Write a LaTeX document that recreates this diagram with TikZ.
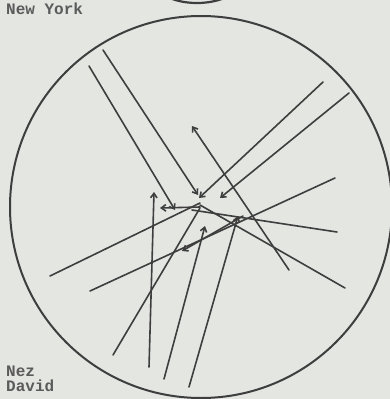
\documentclass[tikz,border=0pt]{standalone}
\usepackage{fontspec}
\setmonofont{Liberation Mono}
\usetikzlibrary{arrows.meta}
\definecolor{paper}{HTML}{E4E6E2}
\definecolor{ink}{HTML}{3E3E3E}
\tikzset{
  stroke/.style={draw=ink, line width=1.6pt, line cap=round},
  arr/.style={stroke, -{Straight Barb[length=4.5pt,width=6.5pt]}},
  lbl/.style={font=\ttfamily\bfseries\fontsize{16}{15}\selectfont, text=ink!85, inner sep=0pt, anchor=base west, align=left}
}
\begin{document}
\begin{tikzpicture}[x=1pt,y=-1pt]
\fill[paper] (0,0) rectangle (390,399);
\useasboundingbox (0,0) rectangle (390,399);
\begin{scope}
\clip (0,0) rectangle (390,399);
\draw[stroke, line width=2.2pt] (197,-20) ellipse [x radius=44, y radius=23];
\draw[stroke, line width=2pt] (201,207) ellipse [x radius=191, y radius=191];
\end{scope}
\node[lbl] (ny) at (6,14) {New York};
\node[lbl] (nez) at (6,376) {Nez};
\node[lbl] (david) at (6,391) {David};
% endpoints
\coordinate (a1) at (89,66);   \coordinate (a2) at (175,210);
\coordinate (b1) at (103,50);  \coordinate (b2) at (198,195);
\coordinate (c1) at (323,82);  \coordinate (c2) at (199,198);
\coordinate (d1) at (349,93);  \coordinate (d2) at (220,198);
\coordinate (e1) at (289,270); \coordinate (e2) at (192,126);
\coordinate (f1) at (149,367); \coordinate (f2) at (154,192);
\coordinate (g1) at (113,355); \coordinate (g2) at (200,208);
\coordinate (h1) at (164,379); \coordinate (h2) at (205,226);
\coordinate (i1) at (189,387); \coordinate (i2) at (238,216);
\coordinate (l1a) at (50,276); \coordinate (l1b) at (200,203);
\coordinate (l2a) at (90,291); \coordinate (l2b) at (335,178);
\coordinate (j1) at (243,216); \coordinate (j2) at (182,251);
\coordinate (k1) at (192,210); \coordinate (k2) at (337,232);
\coordinate (m1) at (200,205); \coordinate (m2) at (345,288);
\coordinate (n1) at (200,207); \coordinate (n2) at (160,208);
\draw[arr] (a1) -- (a2);
\draw[arr] (b1) -- (b2);
\draw[arr] (c1) -- (c2);
\draw[arr] (d1) -- (d2);
\draw[arr] (e1) -- (e2);
\draw[arr] (f1) -- (f2);
\draw[stroke] (g1) -- (g2);
\draw[arr] (h1) -- (h2);
\draw[arr] (i1) -- (i2);
\draw[stroke] (l1a) -- (l1b);
\draw[stroke] (l2a) -- (l2b);
\draw[arr] (j1) -- (j2);
\draw[stroke] (k1) -- (k2);
\draw[stroke] (m1) -- (m2);
\draw[arr] (n1) -- (n2);
\end{tikzpicture}
\end{document}
